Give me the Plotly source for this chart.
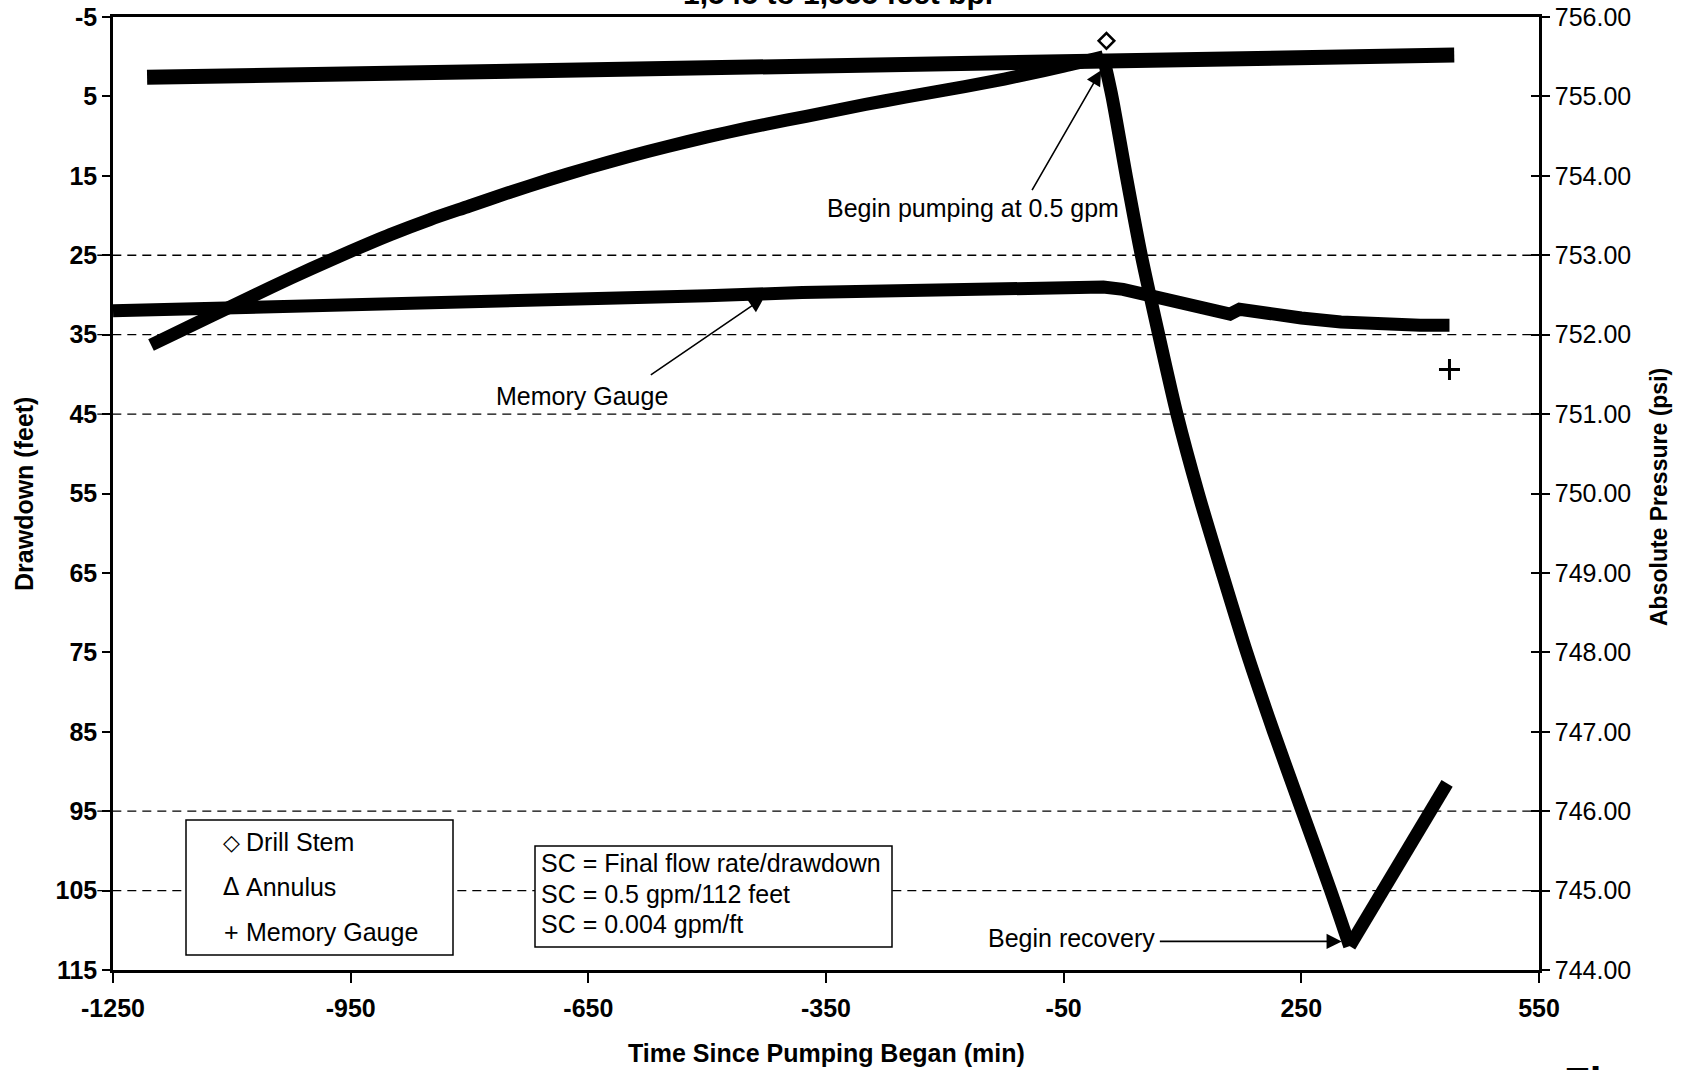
import plotly.graph_objects as go

# ---------------- data ----------------
# Drill stem: drawdown (ft) vs. time since pumping began (min)
ds_time = [-1202, -1150, -1100, -1050, -1000, -950, -900, -850, -800, -750, -700, -650, -600,
           -550, -500, -450, -400, -350, -300, -250, -200, -150, -100, -50, 0,
           11, 29, 48, 70, 93, 120, 150, 181, 215, 251, 287, 311, 434]
ds_drawdown = [36.3, 33.8, 31.4, 29.0, 26.7, 24.5, 22.4, 20.5, 18.8, 17.1, 15.5, 14.0, 12.6,
               11.3, 10.1, 9.0, 8.0, 7.0, 6.0, 5.1, 4.2, 3.3, 2.3, 1.2, 0.0,
               5.0, 15.0, 25.0, 35.0, 45.0, 55.0, 65.0, 75.0, 85.0, 95.0, 105.0, 112.0, 91.5]
ds_point_time = [4]
ds_point_drawdown = [-2.0]

# Annulus: absolute pressure (psi)
an_time = [-1207, -900, -600, -300, 0, 200, 443]
an_psi = [755.24, 755.29, 755.33, 755.38, 755.44, 755.48, 755.52]

# Memory gauge: absolute pressure (psi)
mg_time = [-1250, -1100, -950, -800, -650, -500, -380, -250, -120, -50, 0, 25, 50, 100, 150,
           160, 172, 200, 250, 300, 350, 400, 437]
mg_psi = [752.30, 752.33, 752.37, 752.41, 752.45, 752.49, 752.53, 752.56, 752.58, 752.59, 752.60,
          752.57, 752.51, 752.40, 752.28, 752.26, 752.32, 752.27, 752.21, 752.16, 752.13, 752.12, 752.12]
mg_point_time = [437]
mg_point_psi = [751.56]

# axes
x_ticks = [-1250, -950, -650, -350, -50, 250, 550]
x_labels = ["-1250", "-950", "-650", "-350", "-50", "250", "550"]
drawdown_ticks = [-5, 5, 15, 25, 35, 45, 55, 65, 75, 85, 95, 105, 115]
drawdown_labels = ["-5", "5", "15", "25", "35", "45", "55", "65", "75", "85", "95", "105", "115"]
pressure_ticks = [744, 745, 746, 747, 748, 749, 750, 751, 752, 753, 754, 755, 756]
grid_drawdown = [25, 35, 45, 95, 105]

# ---------------- layout geometry ----------------
W, H = 1683, 1070
PL, PR, PT, PB = 113, 1539, 17, 970          # plot area edges in pixels


def px(x):
    return (x - PL) / (PR - PL)


def py(y):
    return (PB - y) / (PB - PT)


FONT = "Liberation Sans, Arial, sans-serif"

fig = go.Figure()

fig.add_trace(go.Scatter(x=an_time, y=an_psi, yaxis="y2", mode="lines",
                         line=dict(color="black", width=15), name="Annulus"))
fig.add_trace(go.Scatter(x=mg_time, y=mg_psi, yaxis="y2", mode="lines",
                         line=dict(color="black", width=13), name="Memory Gauge"))
fig.add_trace(go.Scatter(x=mg_point_time, y=mg_point_psi, yaxis="y2", mode="markers",
                         marker=dict(symbol="cross-thin", size=15, line=dict(color="black", width=3)),
                         name="Memory Gauge"))

# drill stem drawn as three pieces: pre-pumping recovery, pumping drawdown, recovery
i_peak = ds_time.index(0)
i_low = ds_drawdown.index(max(ds_drawdown))
pieces = [(0, i_peak + 1, "spline"), (i_peak, i_low + 1, "spline"), (i_low, len(ds_time), "linear")]
for a, b, shape in pieces:
    fig.add_trace(go.Scatter(x=ds_time[a:b], y=ds_drawdown[a:b], mode="lines",
                             line=dict(color="black", width=13, shape=shape, smoothing=0.8),
                             name="Drill Stem"))
fig.add_trace(go.Scatter(x=ds_point_time, y=ds_point_drawdown, mode="markers",
                         marker=dict(symbol="diamond-open", size=12, color="black",
                                     line=dict(color="black", width=2.5)),
                         name="Drill Stem"))
# carrier for the inner half of the right-hand cross ticks
fig.add_trace(go.Scatter(x=[], y=[], yaxis="y3", showlegend=False, hoverinfo="skip"))

shapes = []
for v in grid_drawdown:
    shapes.append(dict(type="line", xref="paper", yref="y", x0=-0.011, x1=1, y0=v, y1=v,
                       line=dict(color="black", width=1.3, dash="9px,6px"), layer="below"))
# legend and specific-capacity boxes
shapes.append(dict(type="rect", xref="paper", yref="paper", x0=px(186), x1=px(453), y0=py(955), y1=py(820),
                   line=dict(color="black", width=1.5), fillcolor="white", layer="above"))
shapes.append(dict(type="rect", xref="paper", yref="paper", x0=px(535), x1=px(892), y0=py(947), y1=py(846),
                   line=dict(color="black", width=1.5), fillcolor="white", layer="above"))

ann = []


def text(s, x, y, xanchor="left", yanchor="middle", size=25, bold=False, angle=0, family=FONT):
    ann.append(dict(text=s, xref="paper", yref="paper", x=px(x), y=py(y), xanchor=xanchor,
                    yanchor=yanchor, showarrow=False, textangle=angle,
                    font=dict(family=family, size=size, color="black", weight="bold" if bold else "normal")))


def arrow(tip_x, tip_y, tail_x, tail_y):
    ann.append(dict(text="", x=tip_x, y=tip_y, ax=tail_x, ay=tail_y, xref="x", yref="y",
                    axref="x", ayref="y", showarrow=True, arrowhead=2, arrowsize=1.9,
                    arrowwidth=1.6, arrowcolor="black", standoff=0))


# annotations on the curves
text("Begin pumping at 0.5 gpm", 825, 208)
arrow(-2.7, 1.7, -91, 17.0)
text("Memory Gauge", 494, 396)
arrow(-428, 30.3, -573, 40.2)
text("Begin recovery", 986, 938)
arrow(301, 111.4, 69.5, 111.4)

# legend entries
text("◇", 231, 842, xanchor="center", size=22, bold=True, family="DejaVu Sans")
text("Drill Stem", 244, 842)
text("Δ", 231, 887, xanchor="center", size=24, family="DejaVu Sans")
text("Annulus", 244, 887)
text("+", 231, 932, xanchor="center", size=25)
text("Memory Gauge", 244, 932)

# specific capacity box
text("SC = Final flow rate/drawdown", 539, 863)
text("SC = 0.5 gpm/112 feet", 539, 894)
text("SC = 0.004 gpm/ft", 539, 924)

# axis titles
text("Drawdown (feet)", 24, 494, xanchor="center", bold=True, angle=-90)
text("Absolute Pressure (psi)", 1659, 497, xanchor="center", size=23, bold=True, angle=-90)
text("Time Since Pumping Began (min)", 826, 1053, xanchor="center", bold=True)

# heading and caption running off the page edges
text("1,545 to 1,555 feet bpl", 838, 12, xanchor="center", yanchor="bottom", size=30, bold=True)
text("Figure", 1562, 1057, xanchor="left", yanchor="top", size=42, bold=True)

axis_common = dict(showline=True, linecolor="black", linewidth=2.5, ticks="outside",
                   tickcolor="black", tickwidth=1.5, showgrid=False, zeroline=False)

fig.update_layout(
    width=W, height=H,
    margin=dict(l=PL, r=W - PR, t=PT, b=H - PB, pad=0, autoexpand=False),
    paper_bgcolor="white", plot_bgcolor="white",
    showlegend=False,
    font=dict(family=FONT, color="black"),
    xaxis=dict(range=[-1250, 550], tickvals=x_ticks, ticktext=x_labels, ticklen=10, mirror=True,
               ticklabelstandoff=4,
               tickfont=dict(family=FONT, size=25, color="black", weight="bold"), **axis_common),
    yaxis=dict(range=[115, -5], tickvals=drawdown_ticks, ticktext=drawdown_labels, ticklen=8,
               tickfont=dict(family=FONT, size=25, color="black", weight="bold"), **axis_common),
    yaxis2=dict(range=[744, 756], tickvals=pressure_ticks,
                ticktext=[f"{v:.2f}" for v in pressure_ticks], overlaying="y", side="right",
                ticklen=8, tickfont=dict(family=FONT, size=25, color="black"), **axis_common),
    yaxis3=dict(range=[744, 756], tickvals=pressure_ticks, overlaying="y", side="right",
                ticks="inside", ticklen=8, tickwidth=1.5, tickcolor="black",
                showticklabels=False, showline=False, showgrid=False, zeroline=False),
    shapes=shapes,
    annotations=ann,
)

fig.write_html("out.html")
